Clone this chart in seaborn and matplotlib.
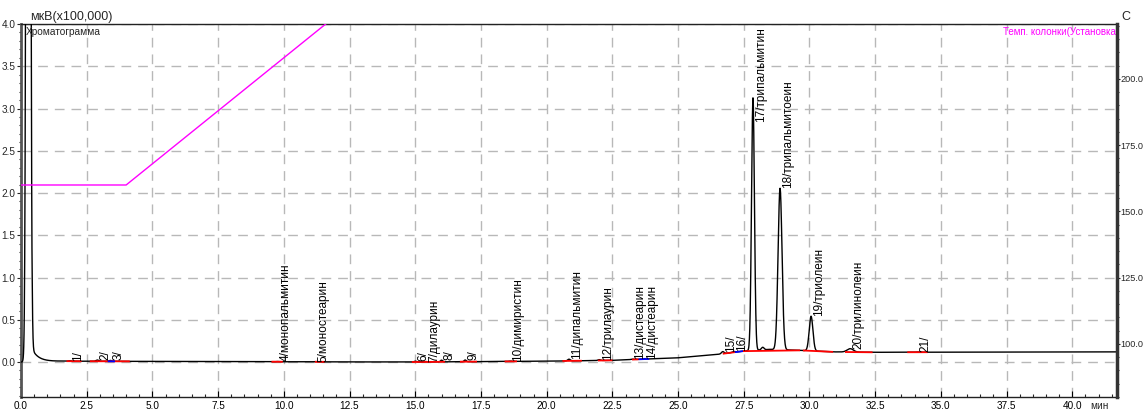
import numpy as np
import pandas as pd
import matplotlib
matplotlib.use("Agg")
import matplotlib.pyplot as plt
import seaborn as sns
from matplotlib.ticker import MultipleLocator, FormatStrFormatter

# Peak table: retention time (min), apex height above baseline (мкВ x100000), width (sigma, min)
peak_names = ["1/", "2/", "3/", "4/монопальмитин", "5/моностеарин", "6/", "7/дилаурин",
              "8/", "9/", "10/димиристин", "11/дипальмитин", "12/трилаурин",
              "13/дистеарин", "14/дистеарин", "15/", "16/", "17/трипальмитин",
              "18/трипальмитоеин", "19/триолеин", "20/трилинолеин", "21/"]
peak_rt = [1.85, 2.9, 3.4, 9.75, 11.2, 15.0, 15.4, 16.0, 16.9, 18.6, 20.85, 22.0,
           23.25, 23.7, 26.7, 27.12, 27.85, 28.88, 30.06, 31.55, 34.1]
peak_height = [0.005, 0.015, 0.01, 0.003, 0.003, 0.01, 0.005, 0.02, 0.02, 0.004, 0.02, 0.01,
               0.005, 0.005, 0.025, 0.01, 2.99, 1.91, 0.41, 0.04, 0.003]
peak_sigma = [0.05, 0.05, 0.05, 0.05, 0.05, 0.04, 0.04, 0.04, 0.04, 0.05, 0.05, 0.05,
              0.05, 0.05, 0.05, 0.05, 0.055, 0.075, 0.07, 0.12, 0.05]

# Unlabelled peaks: solvent front and the shoulder after peak 17
extra_rt = [0.28, 28.22]
extra_height = [30.0, 0.03]
extra_sigma = [0.055, 0.05]
solvent_tail_amp = 0.15
solvent_tail_tau = 0.25

# Baseline drift
base_t = [0.0, 1.5, 10.0, 15.0, 20.0, 22.5, 25.0, 26.5, 27.5, 28.5, 29.5, 30.9, 32.4, 41.7]
base_v = [0.0, 0.01, 0.003, 0.0, 0.01, 0.02, 0.05, 0.09, 0.13, 0.15, 0.14, 0.12, 0.115, 0.12]

# Integration baselines drawn under the peaks
seg_start = [1.73, 2.62, 3.3, 9.53, 11.18, 14.87, 16.7, 18.4, 20.6, 21.95, 23.25, 23.5,
             26.7, 27.16, 27.47, 29.75, 31.35, 33.72]
seg_end = [2.3, 4.14, 3.58, 9.96, 11.56, 16.13, 17.35, 18.87, 21.34, 22.5, 23.5, 23.9,
           27.16, 27.47, 29.64, 30.9, 32.4, 34.5]
seg_color = ["red", "red", "blue", "red", "red", "red", "red", "red", "red", "red", "red", "blue",
             "red", "blue", "red", "red", "red", "red"]

# Column temperature program (°C)
temp_t = [0.0, 4.0, 26.5, 41.7]
temp_v = [160.0, 160.0, 340.0, 340.0]

T_END = 41.7

sns.set_theme(style="white")
plt.rcParams["font.family"] = ["Liberation Sans", "DejaVu Sans"]

t = np.linspace(0.0, T_END, 8000)
baseline = np.interp(t, base_t, base_v)
signal = baseline.copy()
for rt, h, s in zip(peak_rt + extra_rt, peak_height + extra_height, peak_sigma + extra_sigma):
    signal += h * np.exp(-0.5 * ((t - rt) / s) ** 2)
tail_start = extra_rt[0] + 0.14
signal += np.where(t > tail_start, solvent_tail_amp * np.exp(-(t - tail_start) / solvent_tail_tau), 0.0)

chrom = pd.DataFrame({"t": t, "signal": signal})
temp = pd.DataFrame({"t": temp_t, "temp": temp_v})

fig = plt.figure(figsize=(11.45, 4.12), dpi=100)
ax = fig.add_axes([21 / 1145, 15 / 412, (1117 - 21) / 1145, (397 - 24) / 412])
ax2 = ax.twinx()

grid_kw = dict(color="#b8b8b8", lw=1.0, ls=(0, (7, 5)))
ax.grid(True, which="major", **grid_kw)
ax.set_axisbelow(True)

sns.lineplot(data=chrom, x="t", y="signal", ax=ax, color="black", lw=1.0, zorder=3)

for a, b, c in zip(seg_start, seg_end, seg_color):
    ya, yb = np.interp([a, b], base_t, base_v)
    ax.plot([a, b], [ya, yb], color=c, lw=1.3, zorder=4, solid_capstyle="butt")

sns.lineplot(data=temp, x="t", y="temp", ax=ax2, color="#ff00ff", lw=1.0)

# Peak labels
label_ceiling = 2.84
for name, rt, h in zip(peak_names, peak_rt, peak_height):
    y = min(np.interp(rt, base_t, base_v) + h, label_ceiling)
    ax.annotate(name, (rt, y), xytext=(6, 0), textcoords="offset points",
                rotation=90, ha="center", va="bottom", fontsize=8.5,
                color="black", zorder=5)

ax.set_xlim(0, T_END)
ax.set_ylim(-0.414, 4.0)
ax2.set_ylim(80.0, 220.75)

ax.xaxis.set_major_locator(MultipleLocator(2.5))
ax.xaxis.set_minor_locator(MultipleLocator(0.5))
ax.yaxis.set_major_locator(MultipleLocator(0.5))
ax.yaxis.set_minor_locator(MultipleLocator(0.1))
ax.xaxis.set_major_formatter(FormatStrFormatter("%.1f"))
ax.yaxis.set_major_formatter(FormatStrFormatter("%.1f"))
ax2.yaxis.set_major_locator(MultipleLocator(25))
ax2.yaxis.set_minor_locator(MultipleLocator(5))
ax2.yaxis.set_major_formatter(FormatStrFormatter("%.1f"))

ax.set_xlabel("")
ax.set_ylabel("")
ax2.set_ylabel("")

TICK_FS = 7.2
ax.tick_params(axis="x", which="major", direction="in", length=4, width=0.8, pad=3,
               labelsize=TICK_FS, colors="black", bottom=True)
ax.tick_params(axis="x", which="minor", direction="in", length=2, width=0.8, bottom=True)
ax.tick_params(axis="y", which="major", direction="out", length=3, width=0.8, pad=1,
               labelsize=TICK_FS, left=True)
ax.tick_params(axis="y", which="minor", direction="out", length=1.5, width=0.8, left=True)
ax2.tick_params(axis="y", which="major", direction="out", length=2, width=0.8, pad=0.5,
                labelsize=6.6, right=True)
ax2.tick_params(axis="y", which="minor", direction="out", length=1.2, width=0.8, right=True)

for sp in ["top", "bottom"]:
    ax.spines[sp].set_color("#222222")
    ax.spines[sp].set_linewidth(1.0)
ax.spines["left"].set_color("#555555")
ax.spines["left"].set_linewidth(2.0)
ax2.spines["right"].set_color("#333333")
ax2.spines["right"].set_linewidth(2.5)
for sp in ["top", "bottom", "left"]:
    ax2.spines[sp].set_visible(False)

ax.text(0.008, 1.002, "мкВ(x100,000)", transform=ax.transAxes, ha="left", va="bottom",
        fontsize=9)
ax.text(0.004, 0.992, "Хроматограмма", transform=ax.transAxes, ha="left", va="top",
        fontsize=7.3)
ax.text(1.004, 1.002, "C", transform=ax.transAxes, ha="left", va="bottom", fontsize=9)
ax.text(0.999, 0.992, "Темп. колонки(Установка", transform=ax.transAxes, ha="right",
        va="top", fontsize=7.0, color="#ff00ff")
ax.text(0.984, -0.012, "мин", transform=ax.transAxes, ha="center", va="top", fontsize=TICK_FS)

fig.savefig("out.png", dpi=100, facecolor="white")
